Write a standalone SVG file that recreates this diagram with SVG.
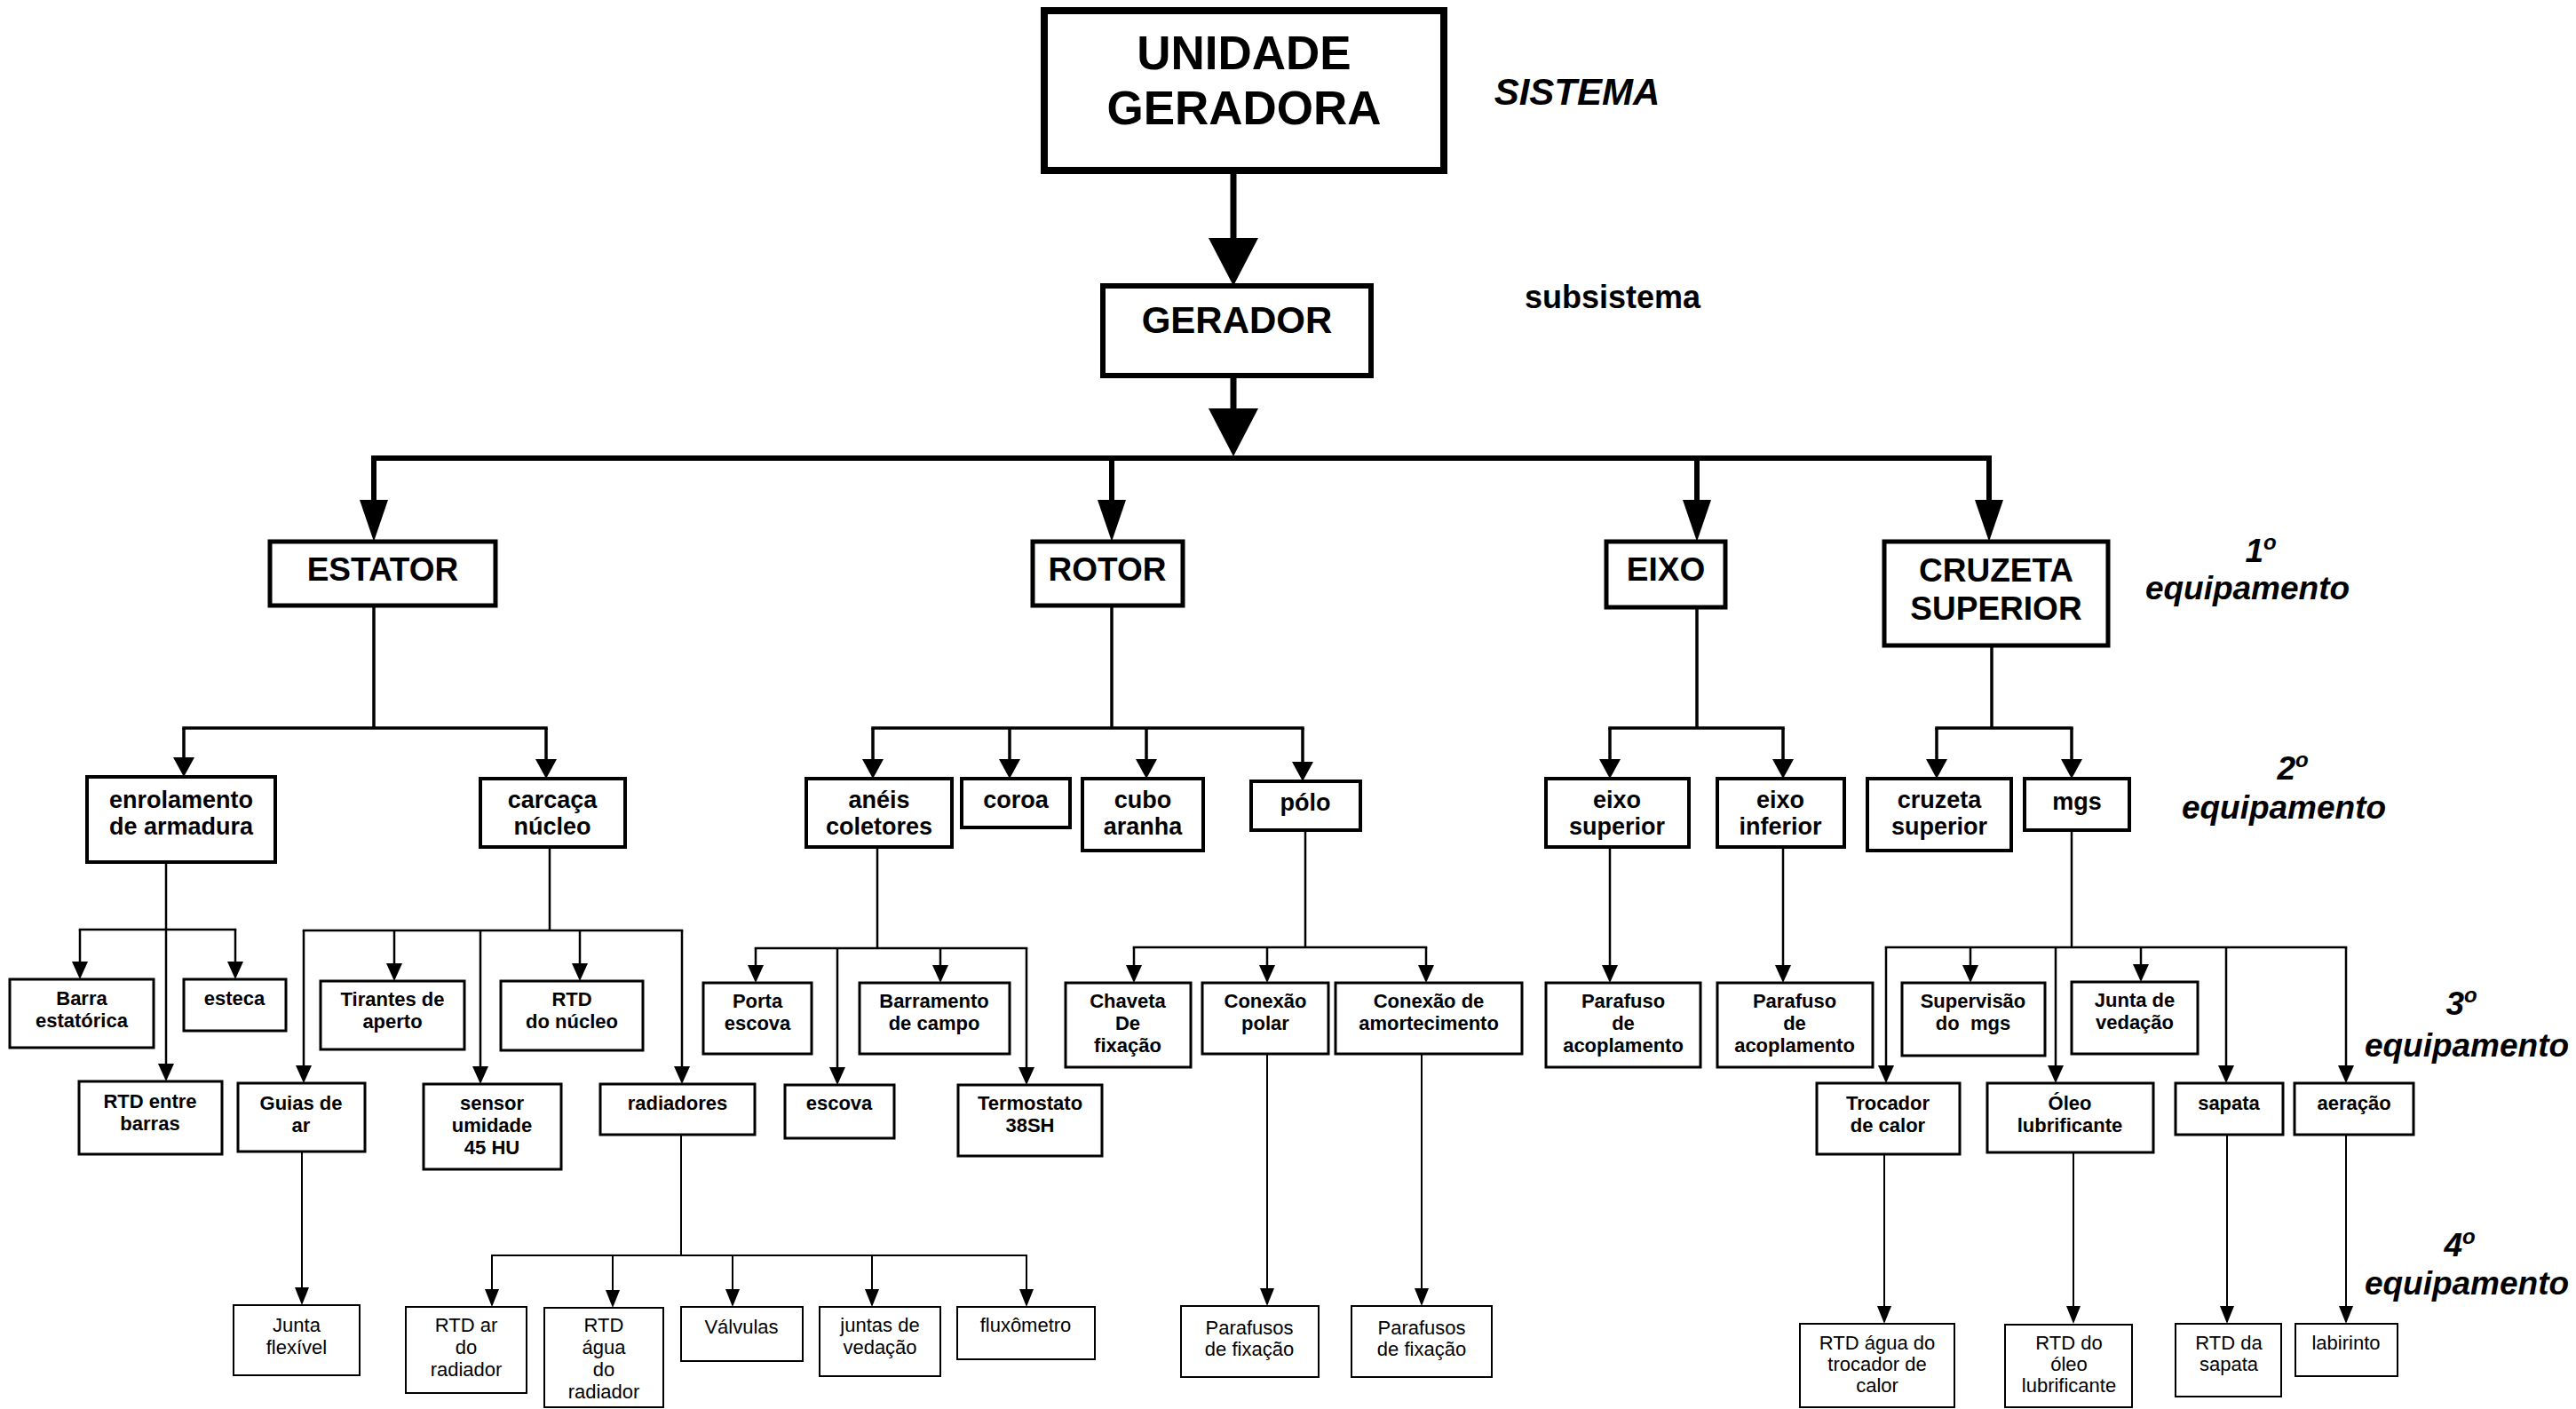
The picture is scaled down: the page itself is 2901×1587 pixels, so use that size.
<svg xmlns="http://www.w3.org/2000/svg" width="2901" height="1587" viewBox="0 0 2901 1587">
  <style>
    text { font-family: "Liberation Sans", Arial, sans-serif; fill: #000; text-anchor: middle; }
    .box { fill: #fff; stroke: #000; }
    .k0 { stroke-width: 8; }
    .kg { stroke-width: 6; }
    .k1 { stroke-width: 5; }
    .k2 { stroke-width: 4; }
    .k3 { stroke-width: 3; }
    .k4 { stroke-width: 2; }
    .t0 { font-size: 53px; font-weight: bold; }
    .tg { font-size: 42px; font-weight: bold; }
    .t1 { font-size: 37px; font-weight: bold; }
    .t2 { font-size: 27px; font-weight: bold; }
    .t3 { font-size: 22px; font-weight: bold; }
    .t4 { font-size: 22px; }
    .lvl { font-size: 37px; font-weight: bold; font-style: italic; }
    .sys { font-size: 42px; font-weight: bold; font-style: italic; }
    .sub { font-size: 36px; font-weight: bold; }
    .ln { fill: none; stroke: #000; }
    .w0 { stroke-width: 7; }
    .w1 { stroke-width: 6; }
    .w2 { stroke-width: 3.5; }
    .w3 { stroke-width: 2.5; }
    .w4 { stroke-width: 2; }
    .bus { stroke-linecap: square; }
  </style>
  <defs>
    <marker id="mA" markerUnits="userSpaceOnUse" markerWidth="54" markerHeight="56" viewBox="0 -28 54 56" refX="0" refY="0" orient="auto"><path d="M0,-28 L54,0 L0,28 z" fill="#000"/></marker>
    <marker id="mB" markerUnits="userSpaceOnUse" markerWidth="47" markerHeight="32" viewBox="0 -16 47 32" refX="0" refY="0" orient="auto"><path d="M0,-16 L47,0 L0,16 z" fill="#000"/></marker>
    <marker id="mC" markerUnits="userSpaceOnUse" markerWidth="22" markerHeight="24" viewBox="0 -12 22 24" refX="0" refY="0" orient="auto"><path d="M0,-12 L22,0 L0,12 z" fill="#000"/></marker>
    <marker id="mD" markerUnits="userSpaceOnUse" markerWidth="20" markerHeight="18" viewBox="0 -9 20 18" refX="0" refY="0" orient="auto"><path d="M0,-9 L20,0 L0,9 z" fill="#000"/></marker>
    <marker id="mE" markerUnits="userSpaceOnUse" markerWidth="20" markerHeight="16" viewBox="0 -8 20 16" refX="0" refY="0" orient="auto"><path d="M0,-8 L20,0 L0,8 z" fill="#000"/></marker>
  </defs>

  <rect width="2901" height="1587" fill="#fff"/>

  <!-- hierarchy connectors -->
  <g id="connectors">
    <!-- system to subsystem -->
    <path class="ln w0" d="M1389,192 V268" marker-end="url(#mA)"/>
    <path class="ln w0" d="M1389,423 V460" marker-end="url(#mA)"/>
    <path class="ln w1 bus" d="M421,516 H2240"/>
    <path class="ln w1" d="M421,516 V563" marker-end="url(#mB)"/>
    <path class="ln w1" d="M1252,516 V563" marker-end="url(#mB)"/>
    <path class="ln w1" d="M1911,516 V563" marker-end="url(#mB)"/>
    <path class="ln w1" d="M2240,516 V563" marker-end="url(#mB)"/>

    <!-- 1st to 2nd equipment -->
    <path class="ln w2" d="M421,682 V820"/>
    <path class="ln w2 bus" d="M207,820 H615"/>
    <path class="ln w2" d="M207,820 V853" marker-end="url(#mC)"/>
    <path class="ln w2" d="M615,820 V855" marker-end="url(#mC)"/>

    <path class="ln w2" d="M1252,682 V820"/>
    <path class="ln w2 bus" d="M983,820 H1467"/>
    <path class="ln w2" d="M983,820 V855" marker-end="url(#mC)"/>
    <path class="ln w2" d="M1137,820 V855" marker-end="url(#mC)"/>
    <path class="ln w2" d="M1291,820 V855" marker-end="url(#mC)"/>
    <path class="ln w2" d="M1467,820 V858" marker-end="url(#mC)"/>

    <path class="ln w2" d="M1911,684 V820"/>
    <path class="ln w2 bus" d="M1813,820 H2008"/>
    <path class="ln w2" d="M1813,820 V855" marker-end="url(#mC)"/>
    <path class="ln w2" d="M2008,820 V855" marker-end="url(#mC)"/>

    <path class="ln w2" d="M2243,727 V820"/>
    <path class="ln w2 bus" d="M2181,820 H2333"/>
    <path class="ln w2" d="M2181,820 V855" marker-end="url(#mC)"/>
    <path class="ln w2" d="M2333,820 V855" marker-end="url(#mC)"/>

    <!-- 2nd to 3rd equipment -->
    <path class="ln w3" d="M187,971 V1198" marker-end="url(#mD)"/>
    <path class="ln w3 bus" d="M90,1047 H265"/>
    <path class="ln w3" d="M90,1047 V1083" marker-end="url(#mD)"/>
    <path class="ln w3" d="M265,1047 V1083" marker-end="url(#mD)"/>

    <path class="ln w3" d="M619,954 V1048"/>
    <path class="ln w3 bus" d="M342,1048 H768"/>
    <path class="ln w3" d="M342,1048 V1200" marker-end="url(#mD)"/>
    <path class="ln w3" d="M444,1048 V1085" marker-end="url(#mD)"/>
    <path class="ln w3" d="M541,1048 V1201" marker-end="url(#mD)"/>
    <path class="ln w3" d="M653,1048 V1085" marker-end="url(#mD)"/>
    <path class="ln w3" d="M768,1048 V1201" marker-end="url(#mD)"/>

    <path class="ln w3" d="M988,954 V1068"/>
    <path class="ln w3 bus" d="M851,1068 H1156"/>
    <path class="ln w3" d="M851,1068 V1087" marker-end="url(#mD)"/>
    <path class="ln w3" d="M943,1068 V1202" marker-end="url(#mD)"/>
    <path class="ln w3" d="M1059,1068 V1087" marker-end="url(#mD)"/>
    <path class="ln w3" d="M1156,1068 V1202" marker-end="url(#mD)"/>

    <path class="ln w3" d="M1470,935 V1067"/>
    <path class="ln w3 bus" d="M1277,1067 H1606"/>
    <path class="ln w3" d="M1277,1067 V1087" marker-end="url(#mD)"/>
    <path class="ln w3" d="M1427,1067 V1087" marker-end="url(#mD)"/>
    <path class="ln w3" d="M1606,1067 V1087" marker-end="url(#mD)"/>

    <path class="ln w3" d="M1813,954 V1087" marker-end="url(#mD)"/>
    <path class="ln w3" d="M2008,954 V1087" marker-end="url(#mD)"/>

    <path class="ln w3" d="M2333,935 V1067"/>
    <path class="ln w3 bus" d="M2124,1067 H2642"/>
    <path class="ln w3" d="M2124,1067 V1200" marker-end="url(#mD)"/>
    <path class="ln w3" d="M2219,1067 V1087" marker-end="url(#mD)"/>
    <path class="ln w3" d="M2315,1067 V1200" marker-end="url(#mD)"/>
    <path class="ln w3" d="M2411,1067 V1086" marker-end="url(#mD)"/>
    <path class="ln w3" d="M2507,1067 V1200" marker-end="url(#mD)"/>
    <path class="ln w3" d="M2642,1067 V1200" marker-end="url(#mD)"/>

    <!-- 3rd to 4th equipment -->
    <path class="ln w4" d="M340,1297 V1450" marker-end="url(#mE)"/>
    <path class="ln w4" d="M767,1278 V1414"/>
    <path class="ln w4 bus" d="M554,1414 H1156"/>
    <path class="ln w4" d="M554,1414 V1452" marker-end="url(#mE)"/>
    <path class="ln w4" d="M690,1414 V1453" marker-end="url(#mE)"/>
    <path class="ln w4" d="M825,1414 V1452" marker-end="url(#mE)"/>
    <path class="ln w4" d="M982,1414 V1452" marker-end="url(#mE)"/>
    <path class="ln w4" d="M1156,1414 V1452" marker-end="url(#mE)"/>
    <path class="ln w4" d="M1427,1187 V1451" marker-end="url(#mE)"/>
    <path class="ln w4" d="M1601,1187 V1451" marker-end="url(#mE)"/>
    <path class="ln w4" d="M2122,1300 V1471" marker-end="url(#mE)"/>
    <path class="ln w4" d="M2335,1298 V1471" marker-end="url(#mE)"/>
    <path class="ln w4" d="M2508,1278 V1471" marker-end="url(#mE)"/>
    <path class="ln w4" d="M2642,1278 V1471" marker-end="url(#mE)"/>
  </g>

  <!-- level captions -->
  <g id="captions">
    <text class="sys" x="1776" y="118">SISTEMA</text>
    <text class="sub" x="1816" y="347">subsistema</text>
    <text class="lvl" x="2546" y="633">1<tspan dy="-14" font-size="24">o</tspan></text>
    <text class="lvl" x="2531" y="675">equipamento</text>
    <text class="lvl" x="2582" y="878">2<tspan dy="-14" font-size="24">o</tspan></text>
    <text class="lvl" x="2572" y="922">equipamento</text>
    <text class="lvl" x="2772" y="1143">3<tspan dy="-14" font-size="24">o</tspan></text>
    <text class="lvl" x="2778" y="1190">equipamento</text>
    <text class="lvl" x="2770" y="1415">4<tspan dy="-14" font-size="24">o</tspan></text>
    <text class="lvl" x="2778" y="1458">equipamento</text>
  </g>

  <!-- system / subsystem -->
  <g id="unidade-geradora"><rect class="box k0" x="1176" y="12" width="450" height="180"/><text class="t0" x="1401" y="78">UNIDADE</text><text class="t0" x="1401" y="140">GERADORA</text></g>
  <g id="gerador"><rect class="box kg" x="1242" y="322" width="302" height="101"/><text class="tg" x="1393" y="375">GERADOR</text></g>

  <!-- 1st equipment -->
  <g id="estator"><rect class="box k1" x="304" y="610" width="254" height="72"/><text class="t1" x="431" y="654">ESTATOR</text></g>
  <g id="rotor"><rect class="box k1" x="1163" y="610" width="169" height="72"/><text class="t1" x="1247" y="654">ROTOR</text></g>
  <g id="eixo"><rect class="box k1" x="1809" y="610" width="134" height="74"/><text class="t1" x="1876" y="654">EIXO</text></g>
  <g id="cruzeta-superior-1"><rect class="box k1" x="2122" y="610" width="252" height="117"/><text class="t1" x="2248" y="655">CRUZETA</text><text class="t1" x="2248" y="698">SUPERIOR</text></g>

  <!-- 2nd equipment -->
  <g id="enrolamento"><rect class="box k2" x="98" y="875" width="212" height="96"/><text class="t2" x="204" y="910">enrolamento</text><text class="t2" x="204" y="940">de armadura</text></g>
  <g id="carcaca"><rect class="box k2" x="541" y="877" width="163" height="77"/><text class="t2" x="622" y="910">carcaça</text><text class="t2" x="622" y="940">núcleo</text></g>
  <g id="aneis"><rect class="box k2" x="908" y="877" width="164" height="77"/><text class="t2" x="990" y="910">anéis</text><text class="t2" x="990" y="940">coletores</text></g>
  <g id="coroa"><rect class="box k2" x="1083" y="877" width="122" height="55"/><text class="t2" x="1144" y="910">coroa</text></g>
  <g id="cubo"><rect class="box k2" x="1219" y="877" width="136" height="81"/><text class="t2" x="1287" y="910">cubo</text><text class="t2" x="1287" y="940">aranha</text></g>
  <g id="polo"><rect class="box k2" x="1409" y="880" width="123" height="55"/><text class="t2" x="1470" y="913">pólo</text></g>
  <g id="eixo-superior"><rect class="box k2" x="1741" y="877" width="161" height="77"/><text class="t2" x="1821" y="910">eixo</text><text class="t2" x="1821" y="940">superior</text></g>
  <g id="eixo-inferior"><rect class="box k2" x="1934" y="877" width="143" height="77"/><text class="t2" x="2005" y="910">eixo</text><text class="t2" x="2005" y="940">inferior</text></g>
  <g id="cruzeta-superior-2"><rect class="box k2" x="2103" y="877" width="162" height="81"/><text class="t2" x="2184" y="910">cruzeta</text><text class="t2" x="2184" y="940">superior</text></g>
  <g id="mgs"><rect class="box k2" x="2280" y="877" width="118" height="58"/><text class="t2" x="2339" y="912">mgs</text></g>

  <!-- 3rd equipment -->
  <g id="barra"><rect class="box k3" x="11" y="1103" width="162" height="77"/><text class="t3" x="92" y="1132">Barra</text><text class="t3" x="92" y="1157">estatórica</text></g>
  <g id="esteca"><rect class="box k3" x="207" y="1103" width="115" height="58"/><text class="t3" x="264" y="1132">esteca</text></g>
  <g id="tirantes"><rect class="box k3" x="361" y="1105" width="162" height="77"/><text class="t3" x="442" y="1133">Tirantes de</text><text class="t3" x="442" y="1158">aperto</text></g>
  <g id="rtd-nucleo"><rect class="box k3" x="564" y="1105" width="160" height="78"/><text class="t3" x="644" y="1133">RTD</text><text class="t3" x="644" y="1158">do núcleo</text></g>
  <g id="rtd-barras"><rect class="box k3" x="89" y="1218" width="161" height="82"/><text class="t3" x="169" y="1248">RTD entre</text><text class="t3" x="169" y="1273">barras</text></g>
  <g id="guias"><rect class="box k3" x="268" y="1220" width="143" height="77"/><text class="t3" x="339" y="1250">Guias de</text><text class="t3" x="339" y="1275">ar</text></g>
  <g id="sensor"><rect class="box k3" x="477" y="1221" width="155" height="96"/><text class="t3" x="554" y="1250">sensor</text><text class="t3" x="554" y="1275">umidade</text><text class="t3" x="554" y="1300">45 HU</text></g>
  <g id="radiadores"><rect class="box k3" x="676" y="1221" width="174" height="57"/><text class="t3" x="763" y="1250">radiadores</text></g>
  <g id="porta-escova"><rect class="box k3" x="792" y="1107" width="122" height="80"/><text class="t3" x="853" y="1135">Porta</text><text class="t3" x="853" y="1160">escova</text></g>
  <g id="barramento"><rect class="box k3" x="968" y="1107" width="169" height="80"/><text class="t3" x="1052" y="1135">Barramento</text><text class="t3" x="1052" y="1160">de campo</text></g>
  <g id="escova"><rect class="box k3" x="884" y="1222" width="123" height="60"/><text class="t3" x="945" y="1250">escova</text></g>
  <g id="termostato"><rect class="box k3" x="1079" y="1222" width="162" height="80"/><text class="t3" x="1160" y="1250">Termostato</text><text class="t3" x="1160" y="1275">38SH</text></g>
  <g id="chaveta"><rect class="box k3" x="1200" y="1107" width="141" height="95"/><text class="t3" x="1270" y="1135">Chaveta</text><text class="t3" x="1270" y="1160">De</text><text class="t3" x="1270" y="1185">fixação</text></g>
  <g id="conexao-polar"><rect class="box k3" x="1354" y="1107" width="142" height="80"/><text class="t3" x="1425" y="1135">Conexão</text><text class="t3" x="1425" y="1160">polar</text></g>
  <g id="conexao-amortecimento"><rect class="box k3" x="1504" y="1107" width="210" height="80"/><text class="t3" x="1609" y="1135">Conexão de</text><text class="t3" x="1609" y="1160">amortecimento</text></g>
  <g id="parafuso-sup"><rect class="box k3" x="1741" y="1107" width="174" height="95"/><text class="t3" x="1828" y="1135">Parafuso</text><text class="t3" x="1828" y="1160">de</text><text class="t3" x="1828" y="1185">acoplamento</text></g>
  <g id="parafuso-inf"><rect class="box k3" x="1934" y="1107" width="175" height="95"/><text class="t3" x="2021" y="1135">Parafuso</text><text class="t3" x="2021" y="1160">de</text><text class="t3" x="2021" y="1185">acoplamento</text></g>
  <g id="supervisao"><rect class="box k3" x="2142" y="1107" width="161" height="82"/><text class="t3" x="2222" y="1135">Supervisão</text><text class="t3" x="2222" y="1160" xml:space="preserve">do  mgs</text></g>
  <g id="junta-vedacao"><rect class="box k3" x="2333" y="1106" width="142" height="81"/><text class="t3" x="2404" y="1134">Junta de</text><text class="t3" x="2404" y="1159">vedação</text></g>
  <g id="trocador"><rect class="box k3" x="2046" y="1220" width="161" height="80"/><text class="t3" x="2126" y="1250">Trocador</text><text class="t3" x="2126" y="1275">de calor</text></g>
  <g id="oleo"><rect class="box k3" x="2238" y="1220" width="187" height="78"/><text class="t3" x="2331" y="1250">Óleo</text><text class="t3" x="2331" y="1275">lubrificante</text></g>
  <g id="sapata"><rect class="box k3" x="2450" y="1220" width="121" height="58"/><text class="t3" x="2510" y="1250">sapata</text></g>
  <g id="aeracao"><rect class="box k3" x="2584" y="1220" width="134" height="58"/><text class="t3" x="2651" y="1250">aeração</text></g>

  <!-- 4th equipment -->
  <g id="junta-flexivel"><rect class="box k4" x="263" y="1470" width="142" height="79"/><text class="t4" x="334" y="1500">Junta</text><text class="t4" x="334" y="1525">flexível</text></g>
  <g id="rtd-ar"><rect class="box k4" x="457" y="1472" width="136" height="97"/><text class="t4" x="525" y="1500">RTD ar</text><text class="t4" x="525" y="1525">do</text><text class="t4" x="525" y="1550">radiador</text></g>
  <g id="rtd-agua-radiador"><rect class="box k4" x="613" y="1473" width="134" height="112"/><text class="t4" x="680" y="1500">RTD</text><text class="t4" x="680" y="1525">água</text><text class="t4" x="680" y="1550">do</text><text class="t4" x="680" y="1575">radiador</text></g>
  <g id="valvulas"><rect class="box k4" x="767" y="1472" width="137" height="61"/><text class="t4" x="835" y="1502">Válvulas</text></g>
  <g id="juntas-vedacao"><rect class="box k4" x="923" y="1472" width="136" height="78"/><text class="t4" x="991" y="1500">juntas de</text><text class="t4" x="991" y="1525">vedação</text></g>
  <g id="fluxometro"><rect class="box k4" x="1078" y="1472" width="155" height="59"/><text class="t4" x="1155" y="1500">fluxômetro</text></g>
  <g id="parafusos-polar"><rect class="box k4" x="1330" y="1471" width="155" height="80"/><text class="t4" x="1407" y="1503">Parafusos</text><text class="t4" x="1407" y="1527">de fixação</text></g>
  <g id="parafusos-amort"><rect class="box k4" x="1522" y="1471" width="158" height="80"/><text class="t4" x="1601" y="1503">Parafusos</text><text class="t4" x="1601" y="1527">de fixação</text></g>
  <g id="rtd-agua-trocador"><rect class="box k4" x="2027" y="1491" width="174" height="94"/><text class="t4" x="2114" y="1520">RTD água do</text><text class="t4" x="2114" y="1544">trocador de</text><text class="t4" x="2114" y="1568">calor</text></g>
  <g id="rtd-oleo"><rect class="box k4" x="2258" y="1492" width="143" height="93"/><text class="t4" x="2330" y="1520">RTD do</text><text class="t4" x="2330" y="1544">óleo</text><text class="t4" x="2330" y="1568">lubrificante</text></g>
  <g id="rtd-sapata"><rect class="box k4" x="2450" y="1491" width="119" height="82"/><text class="t4" x="2510" y="1520">RTD da</text><text class="t4" x="2510" y="1544">sapata</text></g>
  <g id="labirinto"><rect class="box k4" x="2585" y="1491" width="115" height="59"/><text class="t4" x="2642" y="1520">labirinto</text></g>
</svg>
